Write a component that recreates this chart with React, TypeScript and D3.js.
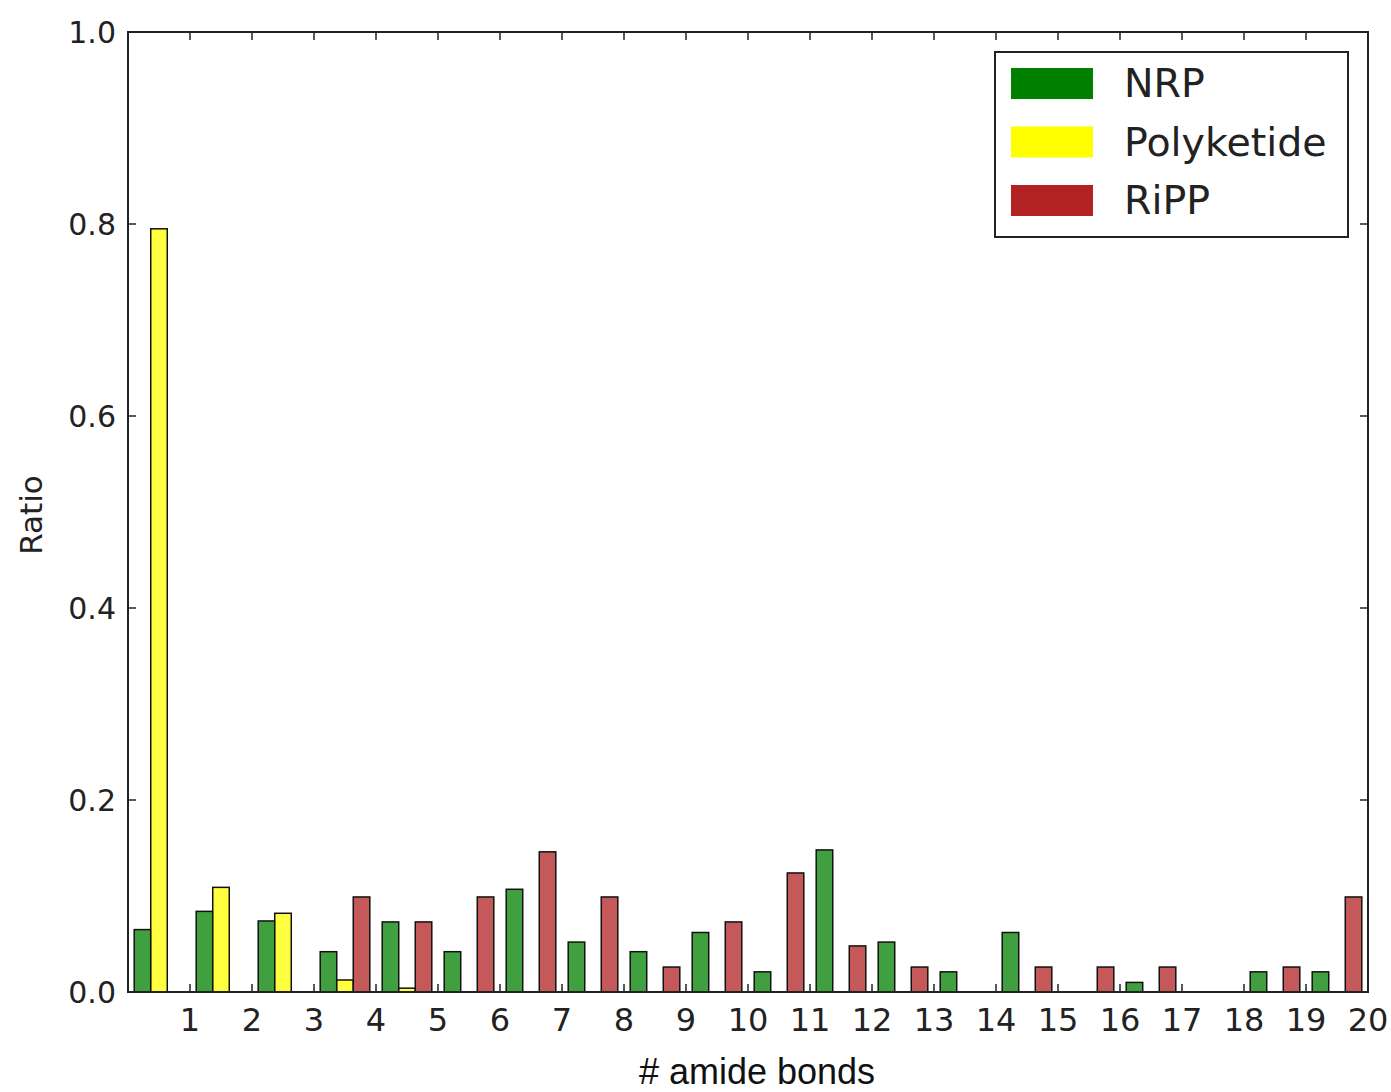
import React from "react";
import * as d3 from "d3";

const bins = d3.range(20);
const nrp = [0.065, 0.084, 0.074, 0.042, 0.073, 0.042, 0.107, 0.052, 0.042, 0.062, 0.021, 0.148, 0.052, 0.021, 0.062, 0, 0.01, 0, 0.021, 0.021];
const polyketide = [0.795, 0.109, 0.082, 0.0125, 0.004, 0, 0, 0, 0, 0, 0, 0, 0, 0, 0, 0, 0, 0, 0, 0];
const ripp = [0, 0, 0, 0.099, 0.073, 0.099, 0.146, 0.099, 0.026, 0.073, 0.124, 0.048, 0.026, 0, 0.026, 0.026, 0.026, 0, 0.026, 0.099];
const xTicks = d3.range(1, 21);
const yTicks = [0, 0.2, 0.4, 0.6, 0.8, 1.0];

const series = [
    { name: "NRP", values: nrp, color: "#008000" },
    { name: "Polyketide", values: polyketide, color: "#ffff00" },
    { name: "RiPP", values: ripp, color: "#b22222" },
];

const W = 1391,
    H = 1092;
const left = 128,
    right = 1368,
    top = 32,
    bottom = 992;

export default function App() {
    const x = d3.scaleLinear().domain([0, 20]).range([left, right]);
    const y = d3.scaleLinear().domain([0, 1]).range([bottom, top]);
    const bw = 0.8 / series.length; // three bars share 80% of each bin
    const tickFont = "'DejaVu Sans', sans-serif";

    return (
        <svg width={W} height={H} style={{ position: "absolute", left: 0, top: 0, background: "#fff" }}>
            <rect x={0} y={0} width={W} height={H} fill="#fff" />
            {/* bars */}
            {series.map((s, k) => (
                <g key={s.name}>
                    {bins.map((b, i) => (
                        <rect
                            key={i}
                            x={x(b + 0.1 + k * bw)}
                            y={y(s.values[i])}
                            width={x(bw) - x(0)}
                            height={y(0) - y(s.values[i])}
                            fill={s.color}
                            fillOpacity={0.75}
                            stroke="#111"
                            strokeWidth={1.5}
                        />
                    ))}
                </g>
            ))}
            {/* ticks */}
            {xTicks.map((t) => (
                <g key={"x" + t}>
                    <line x1={x(t)} x2={x(t)} y1={bottom} y2={bottom - 8} stroke="#222" strokeWidth={1.5} />
                    <line x1={x(t)} x2={x(t)} y1={top} y2={top + 8} stroke="#222" strokeWidth={1.5} />
                    <text x={x(t)} y={1031} textAnchor="middle" fontFamily={tickFont} fontSize={32} fill="#222">
                        {t}
                    </text>
                </g>
            ))}
            {yTicks.map((t) => (
                <g key={"y" + t}>
                    <line x1={left} x2={left + 8} y1={y(t)} y2={y(t)} stroke="#222" strokeWidth={1.5} />
                    <line x1={right} x2={right - 8} y1={y(t)} y2={y(t)} stroke="#222" strokeWidth={1.5} />
                    <text x={116} y={y(t)} dy="0.36em" textAnchor="end" fontFamily={tickFont} fontSize={30} fill="#222">
                        {t.toFixed(1)}
                    </text>
                </g>
            ))}
            {/* frame */}
            <rect x={left} y={top} width={right - left} height={bottom - top} fill="none" stroke="#222" strokeWidth={2} />
            {/* axis labels */}
            <text x={757} y={1084} textAnchor="middle" fontFamily="'Liberation Sans', Arial, sans-serif" fontSize={36} fill="#111">
                # amide bonds
            </text>
            <text
                transform={`translate(42, ${(top + bottom) / 2 + 3}) rotate(-90)`}
                textAnchor="middle"
                fontFamily={tickFont}
                fontSize={31}
                fill="#222"
            >
                Ratio
            </text>
            {/* legend */}
            <rect x={995} y={52} width={353} height={185} fill="#fff" stroke="#222" strokeWidth={2} />
            {series.map((s, k) => (
                <g key={"lg" + s.name} transform={`translate(0, ${k * 58.5})`}>
                    <rect x={1011} y={68} width={82} height={31} fill={s.color} />
                    <text x={1124} y={97} fontFamily={tickFont} fontSize={39.5} fill="#222">
                        {s.name}
                    </text>
                </g>
            ))}
        </svg>
    );
}
